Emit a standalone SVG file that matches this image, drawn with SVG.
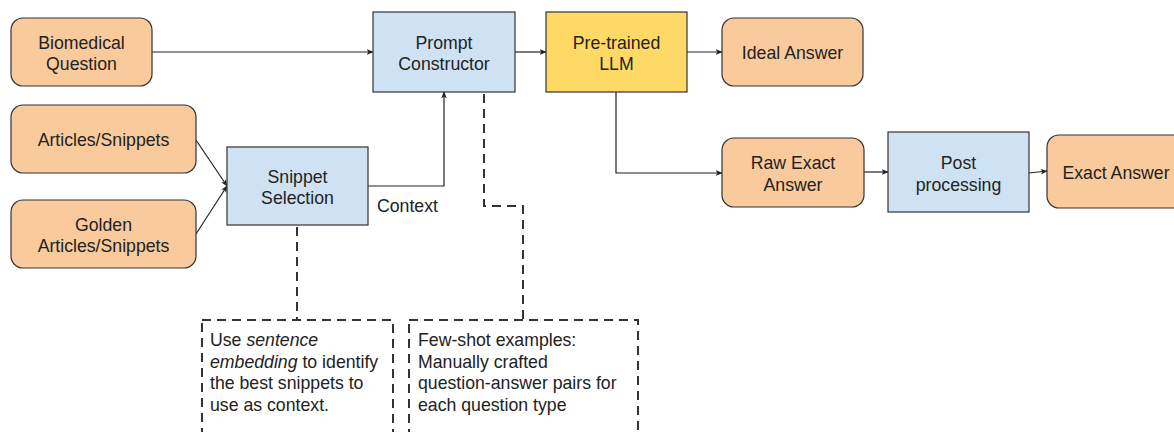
<svg xmlns="http://www.w3.org/2000/svg" width="1174" height="432" viewBox="0 0 1174 432">
<style>
text{font-family:"Liberation Sans",Arial,sans-serif;font-size:17.7px;fill:#222}
.c{text-anchor:middle}
.o{fill:#f9cb9c;stroke:#333;stroke-width:1.2}
.b{fill:#cfe2f3;stroke:#333;stroke-width:1.2}
.y{fill:#ffd966;stroke:#333;stroke-width:1.2}
.l{fill:none;stroke:#222;stroke-width:1.2}
.d{fill:none;stroke:#333;stroke-width:2;stroke-dasharray:9 6}
</style>
<defs>
<marker id="a" viewBox="0 0 10 10" refX="9" refY="5" markerWidth="7" markerHeight="7" markerUnits="userSpaceOnUse" orient="auto">
<path d="M0,1 L10,5 L0,9 L2.5,5 Z" fill="#222"/>
</marker>
</defs>
<g id="connectors">
<path class="l" d="M152,52 H373" marker-end="url(#a)"/>
<path class="l" d="M515,52 H546" marker-end="url(#a)"/>
<path class="l" d="M687,52 H722" marker-end="url(#a)"/>
<path class="l" d="M616,92 V173 H722" marker-end="url(#a)"/>
<path class="l" d="M864,172 H888" marker-end="url(#a)"/>
<path class="l" d="M1029,173 L1047,171" marker-end="url(#a)"/>
<path class="l" d="M196,140 L227,186" marker-end="url(#a)"/>
<path class="l" d="M196,234 L227,186" marker-end="url(#a)"/>
<path class="l" d="M368,186 H444 V92" marker-end="url(#a)"/>
<text x="377" y="212">Context</text>
<path class="d" d="M484,94 V206 H523 V320"/>
<path class="d" d="M297,227 V320"/>
</g>
<g id="biomedical-question">
<rect class="o" x="11" y="18" width="141" height="68" rx="12"/>
<text class="c" x="81.5" y="48.5">Biomedical</text>
<text class="c" x="81.5" y="70">Question</text>
</g>
<g id="articles-snippets">
<rect class="o" x="11" y="105" width="185" height="68" rx="12"/>
<text class="c" x="103.5" y="146">Articles/Snippets</text>
</g>
<g id="golden-articles-snippets">
<rect class="o" x="11" y="200" width="185" height="68" rx="12"/>
<text class="c" x="103.5" y="230.5">Golden</text>
<text class="c" x="103.5" y="252">Articles/Snippets</text>
</g>
<g id="snippet-selection">
<rect class="b" x="227" y="147" width="141" height="78"/>
<text class="c" x="297.5" y="182.5">Snippet</text>
<text class="c" x="297.5" y="204">Selection</text>
</g>
<g id="prompt-constructor">
<rect class="b" x="373" y="12" width="142" height="80"/>
<text class="c" x="444" y="48.5">Prompt</text>
<text class="c" x="444" y="70">Constructor</text>
</g>
<g id="pretrained-llm">
<rect class="y" x="546" y="12" width="141" height="80"/>
<text class="c" x="616.5" y="48.5">Pre-trained</text>
<text class="c" x="616.5" y="70">LLM</text>
</g>
<g id="ideal-answer">
<rect class="o" x="722" y="18" width="141" height="68" rx="12"/>
<text class="c" x="792.5" y="59">Ideal Answer</text>
</g>
<g id="raw-exact-answer">
<rect class="o" x="722" y="138" width="142" height="69" rx="12"/>
<text class="c" x="793" y="169">Raw Exact</text>
<text class="c" x="793" y="190.5">Answer</text>
</g>
<g id="post-processing">
<rect class="b" x="888" y="132" width="141" height="80"/>
<text class="c" x="958.5" y="169">Post</text>
<text class="c" x="958.5" y="190.5">processing</text>
</g>
<g id="exact-answer">
<rect class="o" x="1047" y="135" width="140" height="73" rx="12"/>
<text class="c" x="1116" y="179">Exact Answer</text>
</g>
<g id="note-sentence-embedding">
<rect class="d" x="202" y="320" width="191" height="130"/>
<text x="210" y="346">Use <tspan font-style="italic">sentence</tspan></text>
<text x="210" y="367.5"><tspan font-style="italic">embedding</tspan> to identify</text>
<text x="210" y="389">the best snippets to</text>
<text x="210" y="410.5">use as context.</text>
</g>
<g id="note-few-shot">
<rect class="d" x="409" y="320" width="229" height="130"/>
<text x="418" y="346">Few-shot examples:</text>
<text x="418" y="367.5">Manually crafted</text>
<text x="418" y="389">question-answer pairs for</text>
<text x="418" y="410.5">each question type</text>
</g>
</svg>
